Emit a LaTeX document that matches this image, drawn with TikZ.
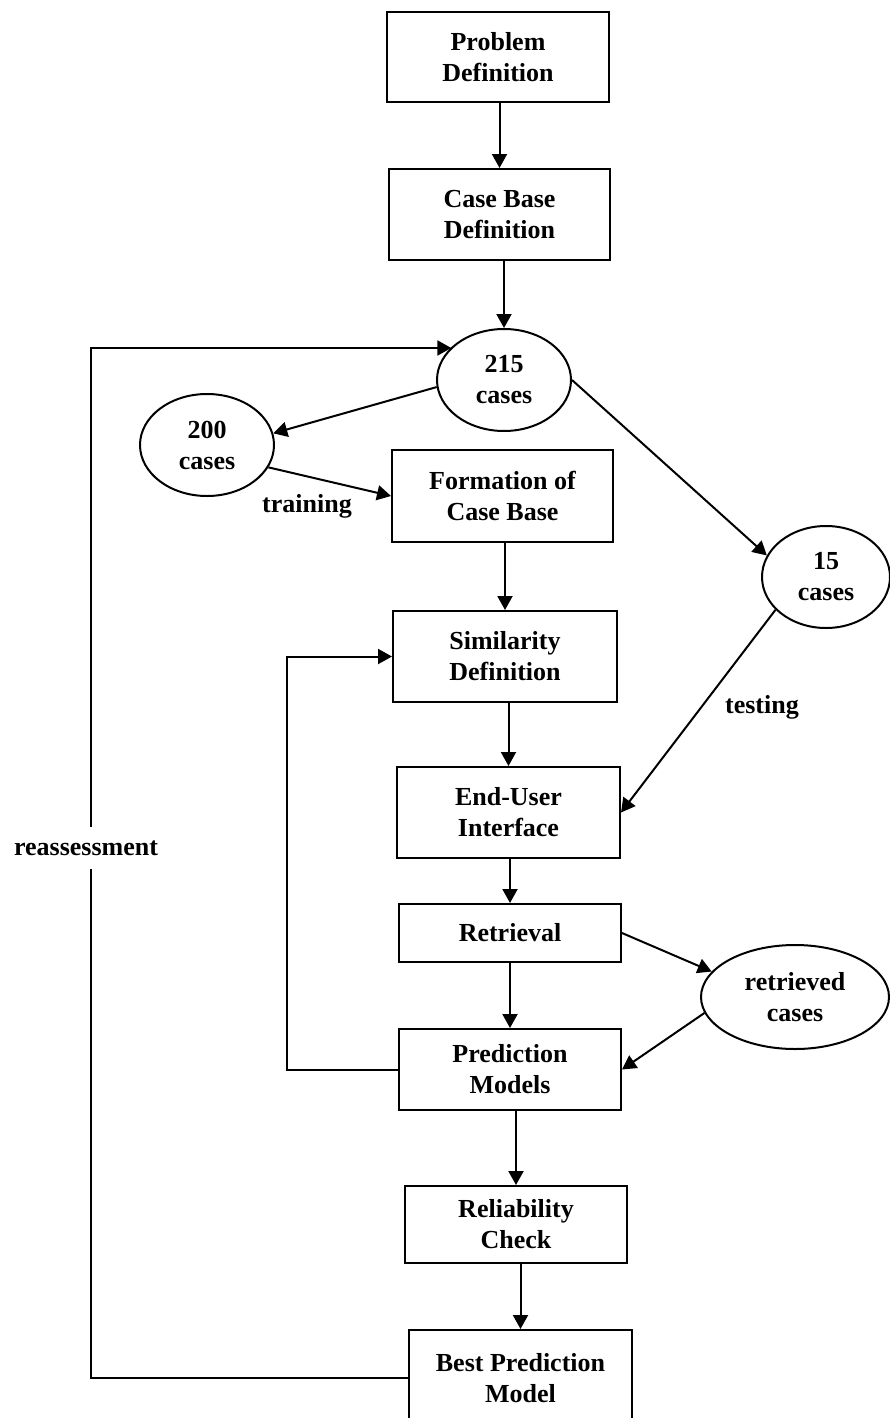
\documentclass[tikz,border=0pt]{standalone}
\usepackage{fontspec}
\setmainfont{Liberation Serif}
\usetikzlibrary{shapes.geometric,arrows.meta,calc}
\tikzset{
  box/.style={draw, line width=2pt, rectangle, inner sep=0pt, align=center, font=\fontsize{26}{31}\selectfont\bfseries},
  oval/.style={draw, line width=2pt, ellipse, inner sep=0pt, align=center, font=\fontsize{26}{31}\selectfont\bfseries},
  lbl/.style={inner sep=0pt, font=\fontsize{26}{31}\selectfont\bfseries},
  arr/.style={line width=2pt, -{Triangle[length=14pt,width=15pt]}}
}
\begin{document}
\begin{tikzpicture}[x=1pt,y=-1pt]
\useasboundingbox (0,0) rectangle (890,1418);
% nodes
\node[box, minimum width=222pt, minimum height=90pt] (prob) at (498,57) {Problem\\Definition};
\node[box, minimum width=221pt, minimum height=91pt] (cbd) at (499.5,214.5) {Case Base\\Definition};
\node[oval, minimum width=134pt, minimum height=102pt] (e215) at (504,380) {215\\cases};
\node[oval, minimum width=134pt, minimum height=102pt] (e200) at (207,445) {200\\cases};
\node[box, minimum width=221pt, minimum height=92pt] (form) at (502.5,496) {Formation of\\Case Base};
\node[oval, minimum width=128pt, minimum height=102pt] (e15) at (826,577) {15\\cases};
\node[box, minimum width=224pt, minimum height=91pt] (sim) at (505,656.5) {Similarity\\Definition};
\node[box, minimum width=223pt, minimum height=91pt] (eui) at (508.5,812.5) {End-User\\Interface};
\node[box, minimum width=222pt, minimum height=58pt] (ret) at (510,933) {Retrieval};
\node[box, minimum width=222pt, minimum height=81pt] (pm) at (510,1069.5) {Prediction\\Models};
\node[oval, minimum width=188pt, minimum height=104pt] (rc) at (795,997) {retrieved\\cases};
\node[box, minimum width=222pt, minimum height=77pt] (rel) at (516,1224.5) {Reliability\\Check};
\node[box, minimum width=223pt, minimum height=96pt] (best) at (520.5,1378) {Best Prediction\\Model};
\coordinate (fb) at (287,656.5);
\coordinate (ra) at (91,348);
% connectors
\draw[arr] (prob.south -| cbd.north) -- (cbd.north);
\draw[arr] (e215.north |- cbd.south) -- (e215.north);
\draw[arr] (e215.186) -- (e200.10);
\draw[arr] (e200.-20) -- (form.west);
\draw[arr] (e215.east) -- (e15.160);
\draw[arr] (form.south -| sim.north) -- (sim.north);
\draw[arr] (sim.south -| eui.north) -- (eui.north);
\draw[arr] (e15.213) -- (eui.east);
\draw[arr] (eui.south -| ret.north) -- (ret.north);
\draw[arr] (ret.south) -- (pm.north);
\draw[arr] (ret.east) -- (rc.163);
\draw[arr] (rc.190) -- (pm.east);
\draw[arr] (pm.west) -| (fb) -- (sim.west);
\draw[arr] (pm.south -| rel.north) -- (rel.north);
\draw[arr] (rel.south -| best.north) -- (best.north);
\draw[arr] (best.west) -| (ra) -- (ra -| e215.148.4);
% labels
\node[lbl] (tr) at (307,506) {training};
\node[lbl] (te) at (762,707) {testing};
\node[lbl, fill=white, inner ysep=14pt] (re) at (86,848) {reassessment};
\end{tikzpicture}
\end{document}
